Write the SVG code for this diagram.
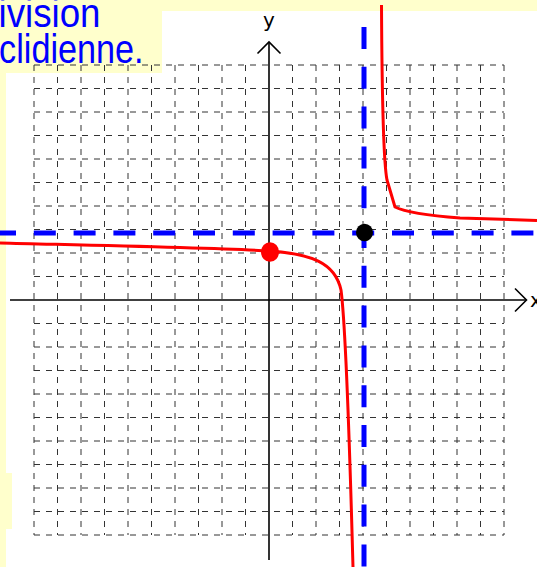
<svg xmlns="http://www.w3.org/2000/svg" width="537" height="567" viewBox="0 0 537 567">
<style>
.bg{fill:#FFFFCC;stroke:none}
.title{font-family:"Liberation Sans",Arial,sans-serif;font-size:41px;fill:#0000FF}
.lbl{font-family:"DejaVu Sans","Liberation Sans",sans-serif;font-size:20px;fill:#000}
.gv{stroke:#333;stroke-width:1;stroke-dasharray:6 6;fill:none}
.gh{stroke:#333;stroke-width:1;stroke-dasharray:6 6;fill:none}
.axis{stroke:#000;stroke-width:1.6;fill:none}
.asym{stroke:#0000FF;stroke-width:5;stroke-dasharray:22 17.8;fill:none}
.curve{stroke:#FF0000;stroke-width:3;fill:none;stroke-linejoin:round;stroke-linecap:butt}
</style>
<rect width="537" height="567" fill="#FFFFFF"/>
<g id="background">
<rect class="bg" x="0" y="0" width="537" height="11"/>
<rect class="bg" x="0" y="0" width="162" height="73"/>
<rect class="bg" x="0" y="0" width="6" height="567"/>
<rect class="bg" x="0" y="473" width="12" height="56"/>
</g>
<g id="title">
<text class="title" x="-1.5" y="27" textLength="102" lengthAdjust="spacingAndGlyphs">ivision</text>
<text class="title" x="-0.9" y="63" textLength="144.5" lengthAdjust="spacingAndGlyphs">clidienne.</text>
</g>
<g id="grid">
<g class="gv">
<line x1="34" y1="65" x2="34" y2="535"/>
<line x1="57.5" y1="65" x2="57.5" y2="535"/>
<line x1="81" y1="65" x2="81" y2="535"/>
<line x1="104.5" y1="65" x2="104.5" y2="535"/>
<line x1="128" y1="65" x2="128" y2="535"/>
<line x1="151.5" y1="65" x2="151.5" y2="535"/>
<line x1="175" y1="65" x2="175" y2="535"/>
<line x1="198.5" y1="65" x2="198.5" y2="535"/>
<line x1="222" y1="65" x2="222" y2="535"/>
<line x1="245.5" y1="65" x2="245.5" y2="535"/>
<line x1="292.5" y1="65" x2="292.5" y2="535"/>
<line x1="316" y1="65" x2="316" y2="535"/>
<line x1="339.5" y1="65" x2="339.5" y2="535"/>
<line x1="363" y1="65" x2="363" y2="535"/>
<line x1="386.5" y1="65" x2="386.5" y2="535"/>
<line x1="410" y1="65" x2="410" y2="535"/>
<line x1="433.5" y1="65" x2="433.5" y2="535"/>
<line x1="457" y1="65" x2="457" y2="535"/>
<line x1="480.5" y1="65" x2="480.5" y2="535"/>
<line x1="504" y1="65" x2="504" y2="535"/>
</g>
<g class="gh">
<line x1="34" y1="65" x2="504" y2="65"/>
<line x1="34" y1="88.5" x2="504" y2="88.5"/>
<line x1="34" y1="112" x2="504" y2="112"/>
<line x1="34" y1="135.5" x2="504" y2="135.5"/>
<line x1="34" y1="159" x2="504" y2="159"/>
<line x1="34" y1="182.5" x2="504" y2="182.5"/>
<line x1="34" y1="206" x2="504" y2="206"/>
<line x1="34" y1="229.5" x2="504" y2="229.5"/>
<line x1="34" y1="253" x2="504" y2="253"/>
<line x1="34" y1="276.5" x2="504" y2="276.5"/>
<line x1="34" y1="323.5" x2="504" y2="323.5"/>
<line x1="34" y1="347" x2="504" y2="347"/>
<line x1="34" y1="370.5" x2="504" y2="370.5"/>
<line x1="34" y1="394" x2="504" y2="394"/>
<line x1="34" y1="417.5" x2="504" y2="417.5"/>
<line x1="34" y1="441" x2="504" y2="441"/>
<line x1="34" y1="464.5" x2="504" y2="464.5"/>
<line x1="34" y1="488" x2="504" y2="488"/>
<line x1="34" y1="511.5" x2="504" y2="511.5"/>
<line x1="34" y1="535" x2="504" y2="535"/>
</g>
</g>
<g id="axes">
<line class="axis" x1="10" y1="300" x2="526" y2="300"/>
<polyline class="axis" points="515,288.5 526.5,300 515,311.5"/>
<line class="axis" x1="269" y1="560" x2="269" y2="42"/>
<polyline class="axis" points="257.5,53.5 269,42 280.5,53.5"/>
<text class="lbl" x="269" y="27" text-anchor="middle">y</text>
<text class="lbl" x="530" y="307">x</text>
</g>
<g id="asymptotes">
<line class="asym" x1="-6" y1="233" x2="537" y2="233"/>
<line class="asym" x1="364" y1="27" x2="364" y2="567"/>
</g>
<g id="curve">
<path class="curve" d="M0,243 C100,245.5 220,248 270,251 C310,254 335,262 341,290 C345,320 349,420 353,567"/>
<path class="curve" d="M381.5,5 C382,100 383,160 387,180 L395,207 C403,211 420,215 460,218 L537,220.5"/>
</g>
<g id="point-A">
<ellipse cx="270" cy="252" rx="9" ry="9.8" fill="#FF0000"/>
</g>
<g id="point-B">
<ellipse cx="364.5" cy="232.5" rx="8.5" ry="8.8" fill="#000000"/>
</g>
</svg>
